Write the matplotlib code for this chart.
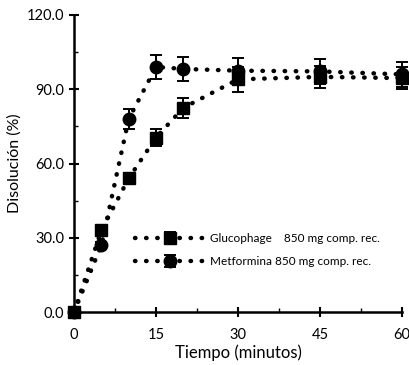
import matplotlib.pyplot as plt
from matplotlib.ticker import MultipleLocator

tiempo = [0, 5, 10, 15, 20, 30, 45, 60]
glucophage = [0, 33, 54, 70.5, 82.5, 94, 95, 94.5]
glucophage_err = [0, 2, 2, 3.5, 4, 5, 4.5, 4.5]
metformina = [0, 27, 78, 99, 98.2, 97.5, 97.2, 96]
metformina_err = [0, 1.5, 4, 5, 5, 5, 5, 5]

plt.rcParams['font.family'] = ['Lato', 'DejaVu Sans']

fig = plt.figure(figsize=(4.09, 3.65), dpi=100)
ax = fig.add_axes([0.181, 0.145, 0.802, 0.814])

style = dict(color='black', linestyle=(0, (0.1, 2.4)), linewidth=3.2,
             elinewidth=1.4, capsize=4, capthick=1.4, ecolor='black',
             dash_capstyle='round', clip_on=False)
ax.errorbar(tiempo, glucophage, yerr=glucophage_err, marker='s', markersize=9,
            label='Glucophage    850 mg comp. rec.', **style)
ax.errorbar(tiempo, metformina, yerr=metformina_err, marker='o', markersize=9,
            label='Metformina 850 mg comp. rec.', **style)

ax.set_xlim(0, 60)
ax.set_ylim(0, 120)
ax.xaxis.set_major_locator(MultipleLocator(15))
ax.xaxis.set_minor_locator(MultipleLocator(7.5))
ax.yaxis.set_major_locator(MultipleLocator(30))
ax.yaxis.set_minor_locator(MultipleLocator(15))
ax.yaxis.set_major_formatter(plt.FormatStrFormatter('%.1f'))
ax.tick_params(which='major', direction='inout', length=7, width=1.5, labelsize=10.5)
ax.tick_params(axis='x', which='major', pad=8)
ax.tick_params(which='minor', direction='in', length=3, width=1)
for s in ['top', 'right']:
    ax.spines[s].set_visible(False)
for s in ['left', 'bottom']:
    ax.spines[s].set_linewidth(1.8)

ax.set_xlabel('Tiempo (minutos)', fontsize=12, labelpad=2)
ax.set_ylabel('Disolución (%)', fontsize=11.5, labelpad=4)

leg = ax.legend(loc='lower left', bbox_to_anchor=(0.155, 0.115), frameon=False,
                fontsize=8.5, handlelength=5.8, handletextpad=0.5, labelspacing=1.0)
for line in leg.get_lines():
    line.set_linewidth(3.2)

fig.savefig('out.png', dpi=100)
